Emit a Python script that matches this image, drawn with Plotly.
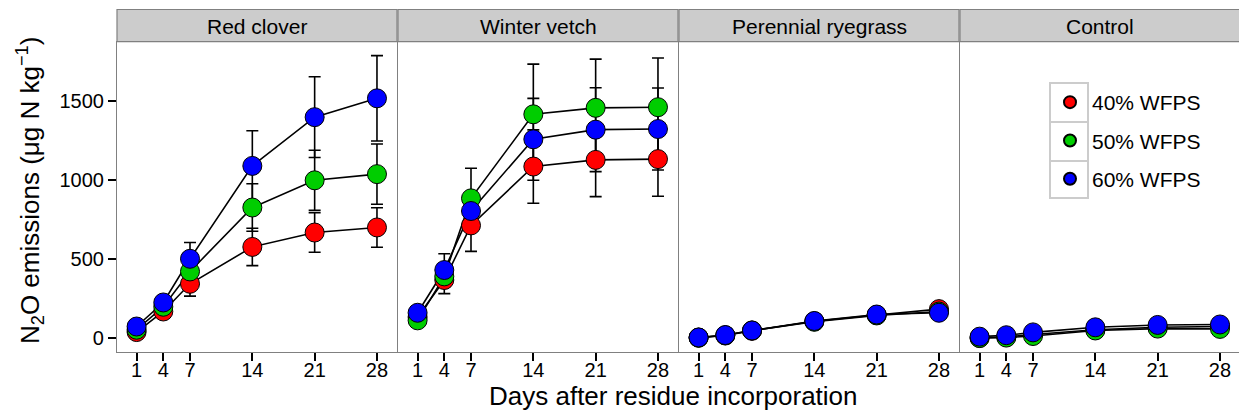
import plotly.graph_objects as go

# ---------------- data ----------------
days = [1, 4, 7, 14, 21, 28]
residues = ["Red clover", "Winter vetch", "Perennial ryegrass", "Control"]
treatments = ["40% WFPS", "50% WFPS", "60% WFPS"]
colors = ["#FF0000", "#00CD00", "#0000FF"]

red_clover_40 = [40, 170, 345, 578, 669, 701]
red_clover_50 = [55, 200, 423, 827, 999, 1038]
red_clover_60 = [75, 227, 503, 1090, 1398, 1517]
red_clover_40_se = [12, 25, 78, 118, 125, 125]
red_clover_50_se = [12, 30, 60, 150, 190, 190]
red_clover_60_se = [15, 40, 103, 222, 255, 270]

winter_vetch_40 = [135, 369, 714, 1086, 1128, 1133]
winter_vetch_50 = [114, 392, 885, 1416, 1457, 1461]
winter_vetch_60 = [162, 432, 805, 1258, 1319, 1323]
winter_vetch_40_se = [15, 86, 164, 232, 232, 235]
winter_vetch_50_se = [15, 60, 190, 317, 308, 311]
winter_vetch_60_se = [15, 103, 108, 259, 265, 259]

ryegrass_40 = [5, 18, 48, 108, 148, 185]
ryegrass_50 = [4, 20, 50, 105, 145, 170]
ryegrass_60 = [6, 21, 50, 110, 151, 162]
ryegrass_40_se = [3, 5, 8, 12, 15, 20]
ryegrass_50_se = [3, 5, 8, 12, 15, 18]
ryegrass_60_se = [3, 5, 8, 12, 15, 18]

control_40 = [3, 10, 25, 55, 70, 75]
control_50 = [2, 5, 15, 50, 62, 60]
control_60 = [11, 20, 38, 70, 85, 88]
control_40_se = [2, 4, 6, 10, 12, 12]
control_50_se = [2, 4, 6, 10, 12, 12]
control_60_se = [2, 4, 6, 10, 12, 12]

values = [
    [red_clover_40, red_clover_50, red_clover_60],
    [winter_vetch_40, winter_vetch_50, winter_vetch_60],
    [ryegrass_40, ryegrass_50, ryegrass_60],
    [control_40, control_50, control_60],
]
errors = [
    [red_clover_40_se, red_clover_50_se, red_clover_60_se],
    [winter_vetch_40_se, winter_vetch_50_se, winter_vetch_60_se],
    [ryegrass_40_se, ryegrass_50_se, ryegrass_60_se],
    [control_40_se, control_50_se, control_60_se],
]

# ---------------- layout geometry ----------------
# The page body has an 8px margin, so the figure is drawn 8px in and the
# coordinates below (taken in window pixels) are shifted by OFF.
OFF = 8
W, H = 1247 - OFF, 417 - OFF
ML, MR, MT, MB = 117 - OFF, 7, 42 - OFF, 73 - OFF
PW, PH = W - ML - MR, H - MT - MB


def px_x(px):
    return (px - OFF - ML) / PW


def px_y(py):
    return (H - MB - (py - OFF)) / PH


panel_px = [(117, 397), (398, 678), (679, 959), (960, 1240)]
FONT = "Liberation Sans, Arial, Helvetica, sans-serif"
BORDER = "#808080"

fig = go.Figure()

# lines + error bars first (below markers)
for p in range(4):
    xa = "x" if p == 0 else f"x{p+1}"
    ya = "y" if p == 0 else f"y{p+1}"
    for t in range(3):
        fig.add_trace(go.Scatter(
            x=days, y=values[p][t], xaxis=xa, yaxis=ya, mode="lines",
            line=dict(color="black", width=1.6),
            error_y=dict(type="data", array=errors[p][t], visible=True,
                         color="black", thickness=1.6, width=6),
            showlegend=False, hoverinfo="skip",
        ))
# markers on top
for p in range(4):
    xa = "x" if p == 0 else f"x{p+1}"
    ya = "y" if p == 0 else f"y{p+1}"
    for t in range(3):
        fig.add_trace(go.Scatter(
            x=days, y=values[p][t], xaxis=xa, yaxis=ya, mode="markers",
            marker=dict(size=19, color=colors[t], line=dict(color="black", width=1)),
            name=treatments[t], legendgroup=treatments[t],
            showlegend=(p == 3),
        ))

layout = dict(
    width=W, height=H,
    margin=dict(l=ML, r=MR, t=MT, b=MB, autoexpand=False),
    paper_bgcolor="white", plot_bgcolor="white",
    font=dict(family=FONT, size=21, color="black"),
    legend=dict(x=px_x(1048), y=px_y(82), xanchor="left", yanchor="top",
                bgcolor="rgba(0,0,0,0)", font=dict(size=21),
                tracegroupgap=8, itemsizing="constant", itemwidth=34),
    showlegend=True,
)

for p in range(4):
    x0, x1 = panel_px[p]
    xkey = "xaxis" if p == 0 else f"xaxis{p+1}"
    ykey = "yaxis" if p == 0 else f"yaxis{p+1}"
    layout[xkey] = dict(
        domain=[px_x(x0), px_x(x1)], range=[-1.2, 30.25],
        anchor="y" if p == 0 else f"y{p+1}",
        tickvals=days, ticktext=[str(d) for d in days],
        ticks="outside", ticklen=8, tickwidth=1.8, tickcolor="black",
        ticklabelstandoff=-8,
        showgrid=False, zeroline=False, automargin=False,
        showline=True, linecolor=BORDER, linewidth=1.2, mirror=True,
        tickfont=dict(size=20),
    )
    layout[ykey] = dict(
        domain=[0, 1], range=[-86, 1873],
        anchor="x" if p == 0 else f"x{p+1}",
        tickvals=[0, 500, 1000, 1500],
        ticks="outside" if p == 0 else "", ticklen=8, tickwidth=1.8, tickcolor="black",
        showticklabels=(p == 0), automargin=False,
        showgrid=False, zeroline=False,
        showline=True, linecolor=BORDER, linewidth=1.2, mirror=True,
        tickfont=dict(size=20),
    )
    if p > 0:
        layout[ykey]["matches"] = "y"

fig.update_layout(**layout)

# strips
for p in range(4):
    x0, x1 = panel_px[p]
    fig.add_shape(type="rect", xref="paper", yref="paper",
                  x0=px_x(x0), x1=px_x(x1), y0=px_y(41.7), y1=px_y(9.5),
                  fillcolor="#CCCCCC", line=dict(color=BORDER, width=1.2), layer="above")
    fig.add_annotation(text=residues[p], xref="paper", yref="paper",
                       x=px_x((x0 + x1) / 2), y=px_y(26), showarrow=False,
                       xanchor="center", yanchor="middle", font=dict(size=21))

# legend key boxes
for top, bot in [(83, 122), (122, 161), (161, 198)]:
    fig.add_shape(type="rect", xref="paper", yref="paper",
                  x0=px_x(1050), x1=px_x(1088), y0=px_y(bot), y1=px_y(top),
                  fillcolor="rgba(0,0,0,0)", line=dict(color="#CCCCCC", width=2),
                  layer="above")

# axis titles
fig.add_annotation(text="Days after residue incorporation", xref="paper", yref="paper",
                   x=px_x(673), y=px_y(396), showarrow=False,
                   xanchor="center", yanchor="middle", font=dict(size=26))
fig.add_annotation(text="N<sub>2</sub>O emissions (\u03bcg N kg<sup>\u22121</sup>)",
                   xref="paper", yref="paper", x=px_x(30), y=px_y(191),
                   showarrow=False, textangle=-90, xanchor="center", yanchor="middle",
                   font=dict(size=26))

fig.write_html("out.html")
